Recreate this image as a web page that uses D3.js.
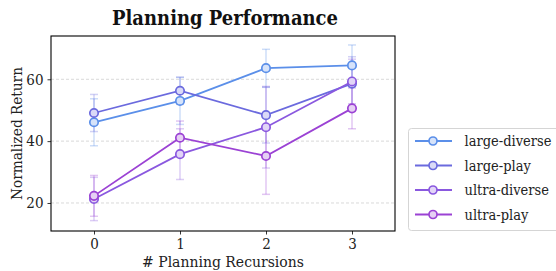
<!DOCTYPE html>
<html><head><meta charset="utf-8">
<script src="https://cdn.jsdelivr.net/npm/d3@7"></script>
<style>body{margin:0;background:#fff}svg{display:block}svg text{font-family:"DejaVu Serif Condensed","DejaVu Serif",serif;font-stretch:condensed}</style>
</head><body><svg id="c" width="556" height="271"></svg>
<script>
const recursions = [0, 1, 2, 3];
const seriesNames = ["large-diverse", "large-play", "ultra-diverse", "ultra-play"];
const largeDiverse = [46.1, 53.0, 63.6, 64.5];
const largePlay    = [49.1, 56.3, 48.4, 58.6];
const ultraDiverse = [21.3, 35.8, 44.5, 59.3];
const ultraPlay    = [22.3, 41.1, 35.2, 50.6];
const largeDiverseErr = [7.6, 7.6, 6.1, 6.6];
const largePlayErr    = [6.0, 4.4, 9.0, 8.7];
const ultraDiverseErr = [7.0, 8.2, 13.2, 7.2];
const ultraPlayErr    = [6.6, 5.4, 12.4, 6.6];
const yTicks = [20, 40, 60];
const colors = ["#5b8fe9", "#6b6ade", "#8a58df", "#9b42d4"];

const series = [
  {name: seriesNames[0], v: largeDiverse, e: largeDiverseErr, c: colors[0]},
  {name: seriesNames[1], v: largePlay, e: largePlayErr, c: colors[1]},
  {name: seriesNames[2], v: ultraDiverse, e: ultraDiverseErr, c: colors[2]},
  {name: seriesNames[3], v: ultraPlay, e: ultraPlayErr, c: colors[3]},
];

const svg = d3.select("#c");
const L = 51, R = 395, T = 36, B = 231;
const x = d3.scaleLinear().domain([-0.5, 3.5]).range([L, R]);
const y = d3.scaleLinear().domain([10.94, 74.0]).range([B, T]);

function fit(sel, target) {
  const n = sel.node();
  const fs = parseFloat(sel.attr("font-size"));
  const w = n.getComputedTextLength();
  if (w > 0) sel.attr("font-size", fs * target / w);
  return sel;
}

// grid
svg.append("g").selectAll("line").data(yTicks).join("line")
  .attr("x1", L).attr("x2", R).attr("y1", d => y(d)).attr("y2", d => y(d))
  .attr("stroke", "#cfcfcf").attr("stroke-width", 0.8).attr("stroke-dasharray", "3,2");

// axes
const yAxis = svg.append("g").attr("transform", `translate(${L},0)`)
  .call(d3.axisLeft(y).tickValues(yTicks).tickSize(3.5).tickPadding(4).tickFormat(d3.format("d")));
const xAxis = svg.append("g").attr("transform", `translate(0,${B})`)
  .call(d3.axisBottom(x).tickValues(recursions).tickSize(3.5).tickPadding(4).tickFormat(d3.format("d")));
[yAxis, xAxis].forEach(a => {
  a.attr("font-family", null);
  a.select(".domain").remove();
  a.selectAll("line").attr("stroke", "#000").attr("stroke-width", 0.8);
  a.selectAll("text").attr("font-size", 15).attr("fill", "#222");
});

// frame
svg.append("rect").attr("x", L).attr("y", T).attr("width", R - L).attr("height", B - T)
  .attr("fill", "none").attr("stroke", "#000").attr("stroke-width", 1.1);

// error bars
const gE = svg.append("g");
series.forEach(s => {
  const g = gE.append("g").attr("stroke", s.c).attr("stroke-opacity", 0.3).attr("stroke-width", 1.5);
  recursions.forEach((r, i) => {
    const cx = x(r), y1 = y(s.v[i] - s.e[i]), y2 = y(s.v[i] + s.e[i]);
    g.append("line").attr("x1", cx).attr("x2", cx).attr("y1", y1).attr("y2", y2);
    g.append("line").attr("x1", cx - 4).attr("x2", cx + 4).attr("y1", y1).attr("y2", y1);
    g.append("line").attr("x1", cx - 4).attr("x2", cx + 4).attr("y1", y2).attr("y2", y2);
  });
});

// lines + markers
const line = d3.line().x((d, i) => x(recursions[i])).y(d => y(d));
series.forEach(s => {
  svg.append("path").attr("d", line(s.v)).attr("fill", "none")
    .attr("stroke", s.c).attr("stroke-width", 1.8);
  svg.append("g").selectAll("circle").data(s.v).join("circle")
    .attr("cx", (d, i) => x(recursions[i])).attr("cy", d => y(d)).attr("r", 4.2)
    .attr("fill", d3.interpolateRgb(s.c, "#fff")(0.75)).attr("stroke", s.c).attr("stroke-width", 1.7);
});

// title
const title = svg.append("text").attr("x", (L + R) / 2 + 2).attr("y", 25).attr("text-anchor", "middle")
  .attr("font-weight", "bold").attr("font-size", 19).attr("fill", "#111")
  .text("Planning Performance");
fit(title, 226);

// axis labels
const xl = svg.append("text").attr("x", (L + R) / 2).attr("y", 267).attr("text-anchor", "middle")
  .attr("font-size", 16).attr("fill", "#222").text("# Planning Recursions");
fit(xl, 162);
const yl = svg.append("text").attr("transform", `translate(22,${(T + B) / 2}) rotate(-90)`)
  .attr("text-anchor", "middle").attr("font-size", 16).attr("fill", "#222")
  .text("Normalized Return");
fit(yl, 133);

// legend
const lg = svg.append("g");
lg.append("rect").attr("x", 408.5).attr("y", 128.5).attr("width", 160).attr("height", 102)
  .attr("rx", 3).attr("fill", "#fff").attr("stroke", "#d5d5d5").attr("stroke-width", 1);
const ly = [141, 165.5, 190, 214.5];
let legendFs = null;
series.forEach((s, i) => {
  lg.append("line").attr("x1", 415).attr("x2", 452).attr("y1", ly[i]).attr("y2", ly[i])
    .attr("stroke", s.c).attr("stroke-width", 1.8);
  lg.append("circle").attr("cx", 433).attr("cy", ly[i]).attr("r", 4)
    .attr("fill", d3.interpolateRgb(s.c, "#fff")(0.75)).attr("stroke", s.c).attr("stroke-width", 1.7);
  const t = lg.append("text").attr("x", 464.5).attr("y", ly[i] + 5)
    .attr("font-size", 16).attr("fill", "#222").text(s.name);
  if (legendFs === null) { fit(t, 87); legendFs = t.attr("font-size"); }
  else t.attr("font-size", legendFs);
});
</script></body></html>
